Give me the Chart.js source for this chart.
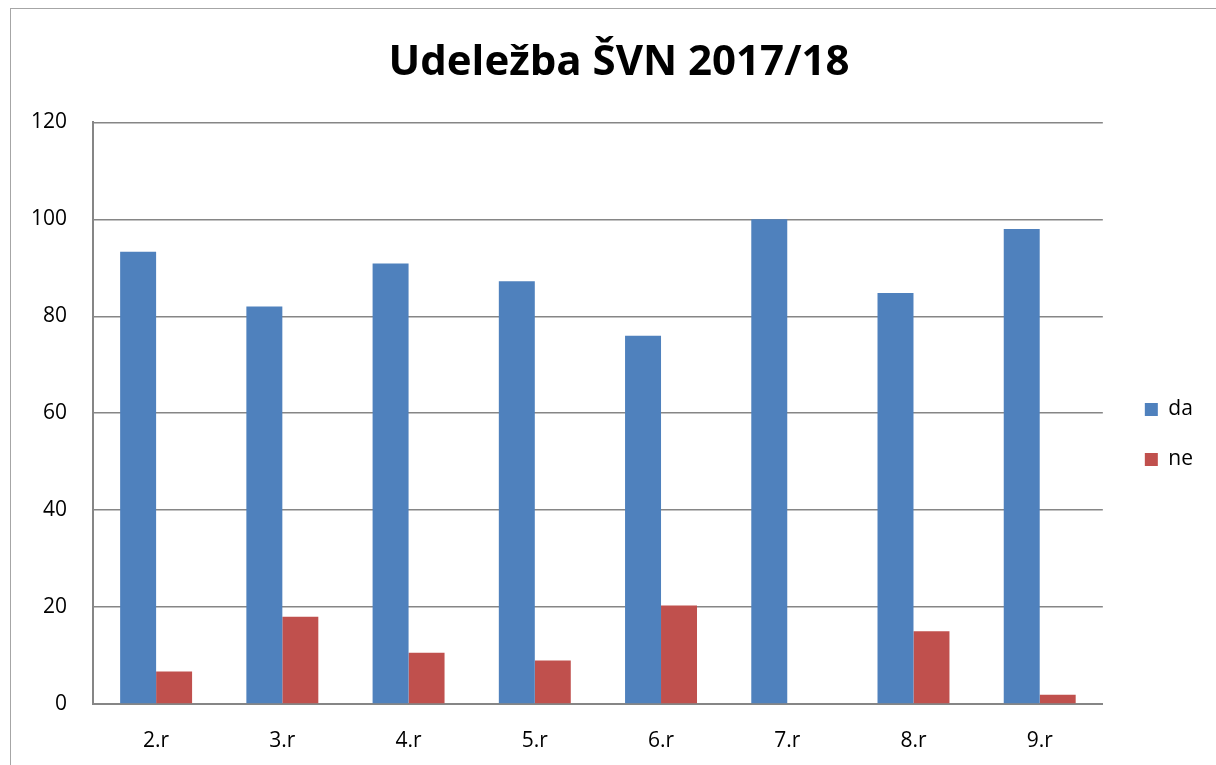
<!DOCTYPE html>
<html>
<head>
<meta charset="utf-8">
<script src="https://cdn.jsdelivr.net/npm/chart.js@4"></script>
<style>
  html, body { margin: 0; padding: 0; background: #fff; }
  #wrap { position: relative; width: 1216px; height: 765px; }
</style>
</head>
<body>
<div id="wrap"><canvas id="grafica" width="1216" height="765"></canvas></div>
<script>
// Podatki grafa
const razredi = ["2.r", "3.r", "4.r", "5.r", "6.r", "7.r", "8.r", "9.r"];
const vrednostiDa = [93.3, 82, 90.9, 87.2, 76, 100, 84.8, 98];
const vrednostiNe = [6.7, 18, 10.6, 9, 20.3, 0, 15, 1.9];
const oznakeY = [0, 20, 40, 60, 80, 100, 120];

const pisava = "'Open Sans', 'Liberation Sans', sans-serif";

// Okvir okoli celotnega grafa
const okvir = {
  id: "okvir",
  beforeDraw(chart) {
    const ctx = chart.ctx;
    ctx.save();
    ctx.fillStyle = "#fff";
    ctx.fillRect(0, 0, chart.width, chart.height);
    ctx.strokeStyle = "#a6a6a6";
    ctx.lineWidth = 1;
    ctx.strokeRect(10.5, 8.5, chart.width + 20, chart.height + 20);
    ctx.restore();
  }
};

// Legendo zamaknemo desno in navzdol, naslov malo desno
const zamiki = {
  id: "zamiki",
  afterLayout(chart) {
    const l = chart.legend;
    l.left += 13; l.right += 13;
    l.top += 38; l.bottom += 38;
    const t = chart.titleBlock;
    if (t) { t.left += 18; t.right += 18; }
  }
};

new Chart(document.querySelector("#grafica"), {
  type: "bar",
  data: {
    labels: razredi,
    datasets: [
      { label: "da", data: vrednostiDa, backgroundColor: "#4f81bd" },
      { label: "ne", data: vrednostiNe, backgroundColor: "#c0504d" }
    ]
  },
  options: {
    responsive: false,
    animation: false,
    layout: { padding: { top: 28, left: 12, right: 26, bottom: 0 } },
    datasets: { bar: { categoryPercentage: 0.57, barPercentage: 1 } },
    plugins: {
      title: {
        display: true,
        text: "Udeležba ŠVN 2017/18",
        color: "#000",
        font: { family: pisava, size: 42, weight: "bold" },
        padding: { top: 10, bottom: 34 }
      },
      legend: {
        position: "right",
        labels: {
          color: "#000",
          font: { family: pisava, size: 21 },
          boxWidth: 13,
          boxHeight: 13,
          padding: 29
        }
      },
      tooltip: { enabled: false }
    },
    scales: {
      x: {
        afterFit(axis) { axis.height = 61; },
        grid: { display: false, drawTicks: false },
        border: { color: "#868686", width: 2 },
        ticks: { color: "#000", font: { family: pisava, size: 21 }, padding: 24 }
      },
      y: {
        min: 0,
        max: 120,
        afterBuildTicks(axis) { axis.ticks = oznakeY.map(v => ({ value: v })); },
        afterFit(axis) { axis.width = 81; },
        grid: { color: "#868686", lineWidth: 1.5, drawTicks: false },
        border: { color: "#868686", width: 2 },
        ticks: { color: "#000", font: { family: pisava, size: 21 }, padding: 26 }
      }
    }
  },
  plugins: [okvir, zamiki]
});
</script>
</body>
</html>
